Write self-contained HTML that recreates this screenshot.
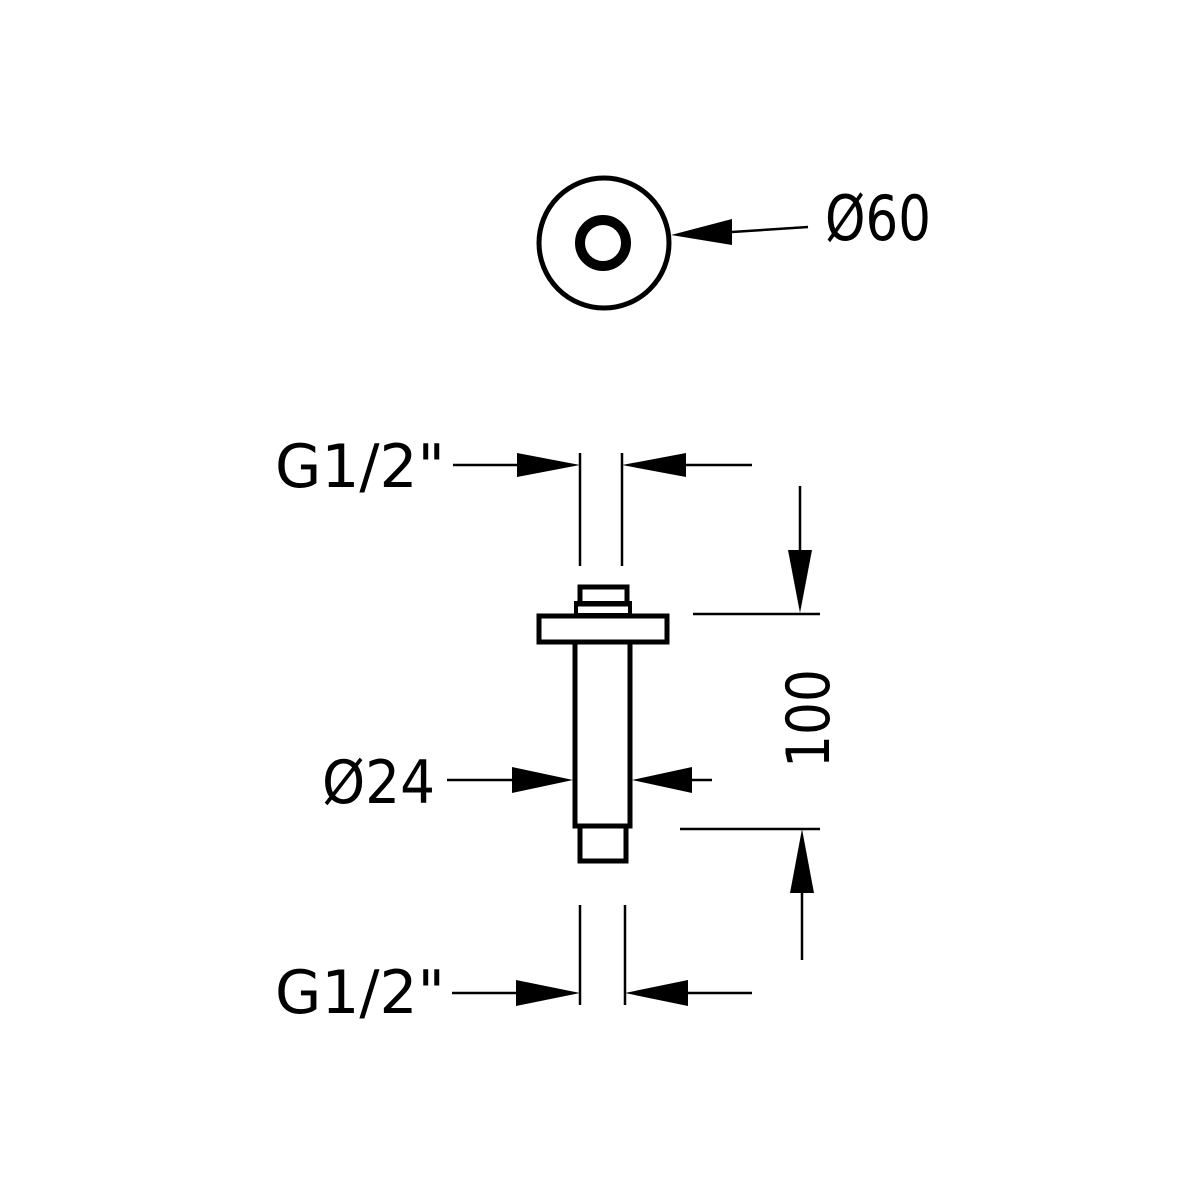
<!DOCTYPE html>
<html><head><meta charset="utf-8"><style>html,body{margin:0;padding:0;background:#fff}svg{display:block}</style></head>
<body>
<svg width="1200" height="1200" viewBox="0 0 1200 1200" xmlns="http://www.w3.org/2000/svg">
<rect width="1200" height="1200" fill="#fff"/>
<g fill="none" stroke="#000">
  <circle cx="604" cy="243" r="65" stroke-width="5"/>
  <circle cx="603" cy="243" r="23" stroke-width="10"/>
  <!-- part -->
  <rect x="580" y="587" width="47" height="17" stroke-width="5"/>
  <rect x="576" y="603" width="54" height="12" stroke-width="4"/>
  <rect x="539" y="616" width="128" height="26" stroke-width="5"/>
  <rect x="575" y="642" width="55" height="184" stroke-width="5"/>
  <rect x="580" y="826" width="46" height="35" stroke-width="5"/>
  <g stroke-width="2.5">
    <!-- Ø60 -->
    <line x1="732" y1="232" x2="808" y2="227"/>
    <!-- top G1/2 -->
    <line x1="453" y1="465" x2="520" y2="465"/>
    <line x1="686" y1="465" x2="752" y2="465"/>
    <line x1="580" y1="453" x2="580" y2="566"/>
    <line x1="622" y1="453" x2="622" y2="566"/>
    <!-- vertical dim -->
    <line x1="800" y1="486" x2="800" y2="552"/>
    <line x1="693" y1="614" x2="820" y2="614"/>
    <line x1="680" y1="829" x2="820" y2="829"/>
    <line x1="802" y1="892" x2="802" y2="960"/>
    <!-- Ø24 -->
    <line x1="447" y1="780" x2="515" y2="780"/>
    <line x1="690" y1="780" x2="712" y2="780"/>
    <!-- bottom G1/2 -->
    <line x1="452" y1="993" x2="518" y2="993"/>
    <line x1="685" y1="993" x2="752" y2="993"/>
    <line x1="580" y1="905" x2="580" y2="1005"/>
    <line x1="625" y1="905" x2="625" y2="1005"/>
  </g>
</g>
<g fill="#000">
  <polygon points="671,235 732,219 732,245"/>
  <polygon points="580,465 517,453 517,477"/>
  <polygon points="622,465 686,453 686,477"/>
  <polygon points="800,613 788,550 812,550"/>
  <polygon points="802,829 790,893 814,893"/>
  <polygon points="573,780 512,767 512,793"/>
  <polygon points="632,780 692,767 692,793"/>
  <polygon points="580,993 516,980 516,1006"/>
  <polygon points="625,993 688,980 688,1006"/>
</g>
<g font-family="DejaVu Sans, sans-serif" fill="#000">
  <text x="825" y="240" font-size="62" textLength="106" lengthAdjust="spacingAndGlyphs">Ø60</text>
  <text x="275" y="487" font-size="60" textLength="170" lengthAdjust="spacingAndGlyphs">G1/2"</text>
  <text x="322" y="803" font-size="60" textLength="113" lengthAdjust="spacingAndGlyphs">Ø24</text>
  <text x="275" y="1013" font-size="60" textLength="170" lengthAdjust="spacingAndGlyphs">G1/2"</text>
  <text transform="translate(829,768) rotate(-90)" font-size="60" textLength="99" lengthAdjust="spacingAndGlyphs">100</text>
</g>
</svg>
</body></html>
